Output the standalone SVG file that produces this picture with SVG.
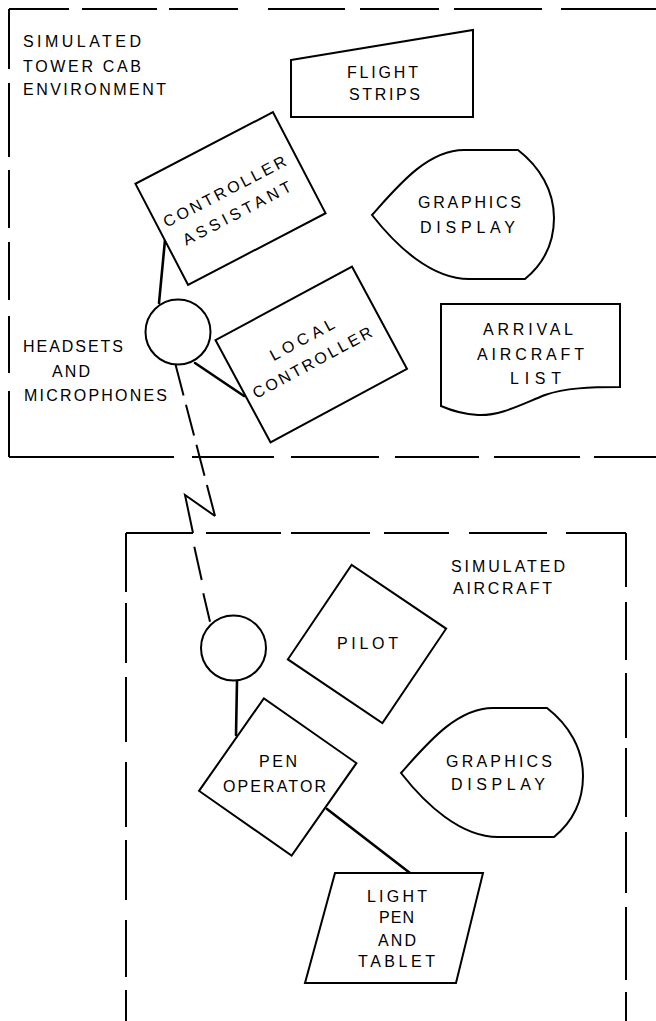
<svg xmlns="http://www.w3.org/2000/svg" xmlns:xlink="http://www.w3.org/1999/xlink" width="656" height="1021" viewBox="0 0 656 1021">
<style>
.bg{fill:#fff}
.b{fill:none;stroke:#000;stroke-width:2;stroke-linecap:butt}
.s{fill:#fff;stroke:#000;stroke-width:2;stroke-linejoin:miter}
.c{fill:none;stroke:#000;stroke-width:2.6;stroke-linecap:round}
.d{fill:none;stroke:#000;stroke-width:2}
text{font-family:"Liberation Sans",Arial,sans-serif;font-size:16px;fill:#000}
.m{text-anchor:middle}
</style>
<defs>
<path id="disp" d="M0,0 C25,-28 55,-65 92,-65 L146,-65 C168,-48 182,-24 182,3 C182,30 170,50 153,64 L97,64 C60,64 25,32 0,0 Z"/>
</defs>
<rect class="bg" width="656" height="1021"/>

<g id="tower-cab-boundary">
<path class="b" d="M9,9H69 M82,9H157 M169,9H238 M268,9H345 M360,9H439 M454,9H542 M561,9H656
M9,9V69 M9,83V157 M9,170V228 M9,242V300 M9,316V373 M9,391V457
M9,457H174 M192,457H274 M291,457H379 M395,457H479 M494,457H580 M594,457H656"/>
<text x="23" y="47" textLength="118" lengthAdjust="spacing">SIMULATED</text>
<text x="23" y="72" textLength="118" lengthAdjust="spacing">TOWER CAB</text>
<text x="23" y="95" textLength="143" lengthAdjust="spacing">ENVIRONMENT</text>
</g>

<g id="aircraft-boundary">
<path class="b" d="M126,533H193 M206,533H281 M291,533H370 M384,533H449 M469,533H547 M566,533H626
M126,533V592 M126,603V663 M126,677V742 M126,762V827 M126,840V900 M126,920V977 M126,990V1021
M626,533V587 M626,602V660 M626,673V738 M626,748V817 M626,832V893 M626,907V980 M626,992V1021"/>
<text x="451" y="572" textLength="114" lengthAdjust="spacing">SIMULATED</text>
<text x="453" y="594" textLength="99" lengthAdjust="spacing">AIRCRAFT</text>
</g>

<g id="connectors">
<line class="c" x1="159" y1="303" x2="165" y2="240"/>
<line class="c" x1="195" y1="363" x2="244" y2="396"/>
<line class="c" x1="237" y1="681" x2="236" y2="735"/>
<line class="c" x1="327" y1="809" x2="410" y2="873"/>
<line class="d" x1="175.5" y1="364.5" x2="215" y2="516" stroke-dasharray="32 9.5"/>
<polyline class="d" points="215,516 185,495 193,533"/>
<line class="d" x1="194.3" y1="546.7" x2="201.7" y2="580"/>
<line class="d" x1="203.3" y1="593.3" x2="210" y2="621.7"/>
</g>

<g id="flight-strips">
<polygon class="s" points="291,60 473,30 473,117 291,117"/>
<text class="m" x="382.5" y="78" textLength="71" lengthAdjust="spacing">FLIGHT</text>
<text class="m" x="384.5" y="100" textLength="71" lengthAdjust="spacing">STRIPS</text>
</g>

<g id="controller-assistant" transform="translate(230.5,198.5) rotate(-27.5)">
<rect class="s" x="-77.5" y="-57" width="155" height="114"/>
<text class="m" x="-2" y="-3.5" textLength="136" lengthAdjust="spacing">CONTROLLER</text>
<text class="m" x="-1" y="21.5" textLength="120" lengthAdjust="spacing">ASSISTANT</text>
</g>

<g id="graphics-display-tower">
<use xlink:href="#disp" href="#disp" class="s" transform="translate(372,215)"/>
<text class="m" x="469.5" y="208" textLength="103" lengthAdjust="spacing">GRAPHICS</text>
<text class="m" x="467.5" y="233" textLength="95" lengthAdjust="spacing">DISPLAY</text>
</g>

<g id="headsets">
<circle class="s" cx="178" cy="332" r="32.5"/>
<text x="23" y="352" textLength="100" lengthAdjust="spacing">HEADSETS</text>
<text x="52" y="377" textLength="38" lengthAdjust="spacing">AND</text>
<text x="24" y="401" textLength="143" lengthAdjust="spacing">MICROPHONES</text>
</g>

<g id="local-controller" transform="translate(311.25,354.5) rotate(-28.3)">
<rect class="s" x="-77.5" y="-58" width="155" height="116"/>
<text class="m" x="-1" y="-12" textLength="71" lengthAdjust="spacing">LOCAL</text>
<text class="m" x="-3" y="13" textLength="133" lengthAdjust="spacing">CONTROLLER</text>
</g>

<g id="arrival-aircraft-list">
<path class="s" d="M441,304 L620,304 L620,387 C590,387 565,388 545,395 C520,405 500,416 478,415 C462,414 450,410 441,406 Z"/>
<text class="m" x="528" y="335" textLength="90" lengthAdjust="spacing">ARRIVAL</text>
<text class="m" x="530.5" y="360" textLength="107" lengthAdjust="spacing">AIRCRAFT</text>
<text class="m" x="535.5" y="384" textLength="51" lengthAdjust="spacing">LIST</text>
</g>

<g id="pilot-headset">
<circle class="s" cx="233.5" cy="648" r="32.5"/>
</g>

<g id="pilot" transform="translate(367,644) rotate(34)">
<rect class="s" x="-57" y="-57" width="114" height="114"/>
</g>
<text class="m" x="367.5" y="649" textLength="61" lengthAdjust="spacing">PILOT</text>

<g id="pen-operator">
<rect class="s" x="-56.5" y="-56.5" width="113" height="113" transform="translate(277.75,777) rotate(35)"/>
<text class="m" x="278" y="767" textLength="38" lengthAdjust="spacing">PEN</text>
<text class="m" x="274.5" y="792" textLength="103" lengthAdjust="spacing">OPERATOR</text>
</g>

<g id="graphics-display-aircraft">
<use xlink:href="#disp" href="#disp" class="s" transform="translate(401,773)"/>
<text class="m" x="499" y="767" textLength="106" lengthAdjust="spacing">GRAPHICS</text>
<text class="m" x="498" y="790" textLength="94" lengthAdjust="spacing">DISPLAY</text>
</g>

<g id="light-pen-tablet">
<polygon class="s" points="335,873 483,873 456,983 305,983"/>
<text class="m" x="397" y="902" textLength="60" lengthAdjust="spacing">LIGHT</text>
<text class="m" x="396.5" y="923" textLength="35" lengthAdjust="spacing">PEN</text>
<text class="m" x="397" y="946" textLength="38" lengthAdjust="spacing">AND</text>
<text class="m" x="396.5" y="967" textLength="77" lengthAdjust="spacing">TABLET</text>
</g>
</svg>
